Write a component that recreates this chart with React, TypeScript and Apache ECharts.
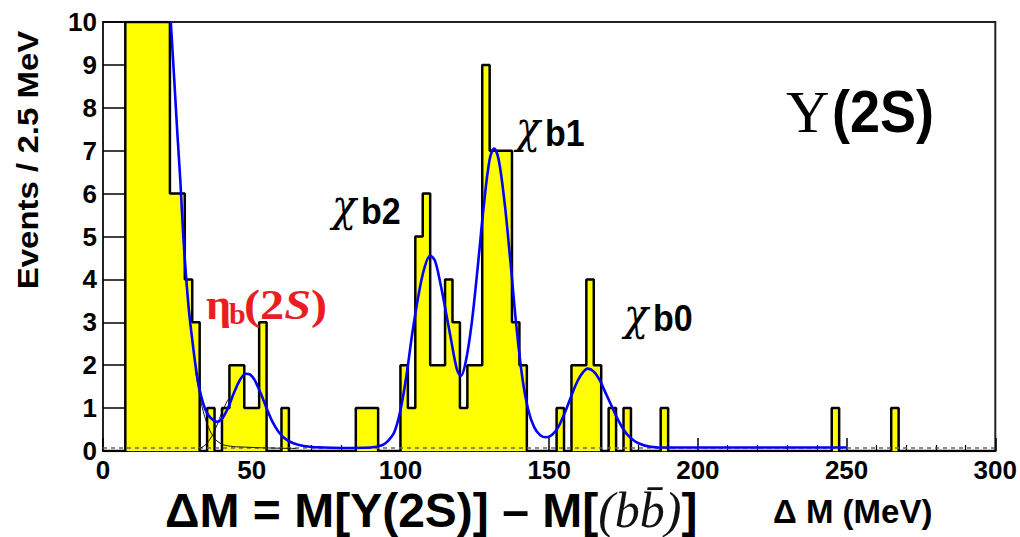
import React, { useEffect, useRef } from "react";
import * as echarts from "echarts";

// Histogram binning and axis ranges (MeV, events)
const BIN_WIDTH = 2.5;
const X_MIN = 0;
const X_MAX = 300;
const Y_MAX = 10;

// Events per 2.5 MeV bin, first bin starts at 0 MeV.
// Bins 7.5–22.5 MeV run past the top of the frame and are cut at 10.
const counts = [
  0, 0, 0, 10, 10, 10, 10, 10, 10, 6,
  6, 4, 3, 0, 1, 0, 1, 2, 2, 1,
  1, 3, 0, 0, 1, 0, 0, 0, 0, 0,
  0, 0, 0, 0, 1, 1, 1, 0, 0, 0,
  2, 1, 5, 6, 2, 2, 4, 3, 1, 2,
  2, 9, 7, 7, 7, 3, 2, 0, 0, 0,
  0, 1, 0, 2, 2, 4, 2, 0, 1, 0,
  1, 0, 0, 0, 0, 1, 0, 0, 0, 0,
  0, 0, 0, 0, 0, 0, 0, 0, 0, 0,
  0, 0, 0, 0, 0, 0, 0, 0, 1, 0,
  0, 0, 0, 0, 0, 0, 1, 0, 0, 0,
  0, 0, 0, 0, 0, 0, 0, 0, 0, 0,
];

// Total fit (MeV, events / 2.5 MeV)
const fitCurve: [number, number][] = [
  [22.8, 10], [24, 8.6], [25, 7.4], [26, 6.3], [27, 5.0], [28, 4.0],
  [29, 3.2], [30, 2.6], [31, 2.05], [32, 1.6], [33.5, 1.15], [35, 0.88],
  [37, 0.72], [38.5, 0.68], [40, 0.75], [42, 1.0], [44, 1.35], [46, 1.65],
  [48, 1.8], [49.5, 1.78], [51, 1.65], [53, 1.35], [55, 1.0], [57, 0.68],
  [59, 0.45], [61, 0.3], [64, 0.18], [68, 0.11], [74, 0.08], [80, 0.07],
  [90, 0.08], [94, 0.14], [96, 0.25], [98, 0.45], [100, 0.95], [102, 1.75],
  [104, 2.75], [106, 3.6], [108, 4.25], [110, 4.55], [111.5, 4.45], [113, 4.05],
  [115, 3.35], [117, 2.6], [119, 1.9], [120.3, 1.75], [122, 2.1], [124, 3.0],
  [126, 4.3], [128, 5.7], [130, 6.8], [131.5, 7.05], [133, 6.8], [135, 5.8],
  [137, 4.4], [139, 2.9], [141, 1.7], [143, 0.95], [145, 0.55], [147, 0.37],
  [149, 0.32], [151, 0.38], [153, 0.55], [155, 0.85], [157, 1.2], [159, 1.55],
  [161, 1.8], [163, 1.92], [165, 1.85], [167, 1.65], [169, 1.35], [171, 1.05],
  [173, 0.75], [175, 0.5], [177, 0.33], [180, 0.18], [184, 0.1], [190, 0.08],
  [250, 0.08],
];

// Fit components drawn as thin lines near the eta_b(2S) region
const expComponent: [number, number][] = [
  [31, 1.9], [32.5, 1.3], [34, 0.85], [35.5, 0.55], [37, 0.35], [39, 0.2],
  [42, 0.12], [48, 0.09], [56, 0.07], [65, 0.06],
];
const etaComponent: [number, number][] = [
  [32, 0.05], [34, 0.12], [36, 0.28], [38, 0.55], [40, 0.9], [42, 1.2],
];
const flatBackground: [number, number][] = [
  [0, 0.07], [300, 0.07],
];

const SANS = '"Liberation Sans", Arial, Helvetica, sans-serif';
const SERIF = '"Liberation Serif", "Times New Roman", serif';
const GREEK = '"DejaVu Serif", "Liberation Serif", serif';
const RED = "#ec1c24";

function txt(
  text: string,
  x: number,
  y: number,
  opts: {
    size: number;
    family?: string;
    weight?: string;
    style?: string;
    fill?: string;
    align?: string;
    rotation?: number;
    scaleX?: number;
    scaleY?: number;
    rich?: Record<string, unknown>;
  }
) {
  return {
    type: "text",
    x,
    y,
    rotation: opts.rotation ?? 0,
    scaleX: opts.scaleX ?? 1,
    scaleY: opts.scaleY ?? 1,
    z: 100,
    style: {
      text,
      fill: opts.fill ?? "#000",
      fontSize: opts.size,
      fontFamily: opts.family ?? SANS,
      fontWeight: opts.weight ?? "bold",
      fontStyle: opts.style ?? "normal",
      align: opts.align ?? "left",
      verticalAlign: "middle",
      textAlign: opts.align ?? "left",
      textVerticalAlign: "middle",
      rich: opts.rich,
    },
  };
}

export default function App() {
  const ref = useRef<HTMLDivElement>(null);

  useEffect(() => {
    if (!ref.current) return;
    const chart = echarts.init(ref.current, undefined, { renderer: "svg" });

    const histData = counts
      .map((c, i) => [X_MIN + i * BIN_WIDTH, c])
      .concat([[X_MAX, 0]]);

    // chi symbol with a bold sans subscript
    const chiLabel = (sub: string, x: number, y: number, subDy: number) => [
      txt("χ", x, y, { size: 40, family: GREEK, weight: "normal", style: "italic", scaleY: 1.1 }),
      txt(sub, x + 29, y + subDy, { size: 34, scaleY: 1.1 }),
    ];

    chart.setOption({
      animation: false,
      backgroundColor: "#fff",
      grid: {
        left: 103,
        right: 22,
        top: 22,
        bottom: 86,
        show: true,
        borderColor: "#222",
        borderWidth: 2,
        containLabel: false,
      },
      xAxis: {
        type: "value",
        min: X_MIN,
        max: X_MAX,
        interval: 50,
        axisLine: { show: true, onZero: false, lineStyle: { color: "#222", width: 2 } },
        axisTick: { show: true, inside: true, length: 13, lineStyle: { color: "#000", width: 1.5 } },
        minorTick: { show: true, splitNumber: 5, length: 6, lineStyle: { color: "#000", width: 1.2 } },
        splitLine: { show: false },
        axisLabel: {
          color: "#000",
          fontSize: 26,
          fontWeight: "bold",
          fontFamily: SANS,
          margin: 6,
        },
      },
      yAxis: {
        type: "value",
        min: 0,
        max: Y_MAX,
        interval: 1,
        axisLine: { show: true, lineStyle: { color: "#222", width: 2 } },
        axisTick: { show: true, inside: true, length: 25, lineStyle: { color: "#000", width: 1.5 } },
        splitLine: { show: false },
        axisLabel: {
          color: "#000",
          fontSize: 26,
          fontWeight: "bold",
          fontFamily: SANS,
          margin: 6,
        },
      },
      series: [
        {
          name: "events",
          type: "line",
          step: "end",
          data: histData,
          symbol: "none",
          clip: true,
          lineStyle: { color: "#000", width: 2.5 },
          areaStyle: { color: "#ffff00", opacity: 1 },
          z: 2,
        },
        {
          name: "flat background",
          type: "line",
          data: flatBackground,
          symbol: "none",
          lineStyle: { color: "#666", width: 1.5, type: [4, 4] },
          z: 3,
        },
        {
          name: "exponential",
          type: "line",
          data: expComponent,
          symbol: "none",
          smooth: true,
          lineStyle: { color: "#111", width: 1 },
          z: 3,
        },
        {
          name: "eta_b(2S)",
          type: "line",
          data: etaComponent,
          symbol: "none",
          smooth: true,
          lineStyle: { color: "#111", width: 1 },
          z: 3,
        },
        {
          name: "fit",
          type: "line",
          data: fitCurve,
          symbol: "none",
          smooth: 0.35,
          clip: true,
          lineStyle: { color: "#0000ff", width: 2.6 },
          z: 4,
        },
      ],
      graphic: [
        txt("Events / 2.5 MeV", 28, 160, {
          size: 30,
          align: "center",
          rotation: Math.PI / 2,
          scaleX: 1.1,
        }),
        txt("{s|ΔM = M[Υ(2S)] – M[}{i|(bb\u0304)}{s|]}", 165, 510, {
          size: 48,
          rich: {
            s: { fontSize: 48, fontWeight: "bold", fontFamily: SANS, fill: "#000" },
            i: { fontSize: 50, fontStyle: "italic", fontWeight: "normal", fontFamily: SERIF, fill: "#111" },
          },
        }),
        txt("Δ M (MeV)", 773, 511, { size: 33 }),
        txt("Υ", 786, 112, { size: 60, family: SERIF, weight: "normal" }),
        txt("(2S)", 832, 112, { size: 54, scaleY: 1.08 }),
        ...chiLabel("b1", 516, 128, 5),
        ...chiLabel("b2", 332, 206, 5),
        ...chiLabel("b0", 624, 315, 3),
        txt("η", 206, 304, { size: 44, family: SERIF, fill: RED }),
        txt("b", 229, 313, { size: 30, family: SERIF, fill: RED }),
        txt("{n|(2}{i|S}{n|)}", 244, 305, {
          size: 42,
          family: SERIF,
          fill: RED,
          scaleX: 1.15,
          rich: {
            n: { fontSize: 42, fontWeight: "bold", fontFamily: SERIF, fill: RED },
            i: { fontSize: 42, fontWeight: "bold", fontStyle: "italic", fontFamily: SERIF, fill: RED },
          },
        }),
      ],
    });

    return () => chart.dispose();
  }, []);

  return (
    <div
      ref={ref}
      style={{ position: "fixed", left: 0, top: 0, width: 1020, height: 537, background: "#fff" }}
    />
  );
}
